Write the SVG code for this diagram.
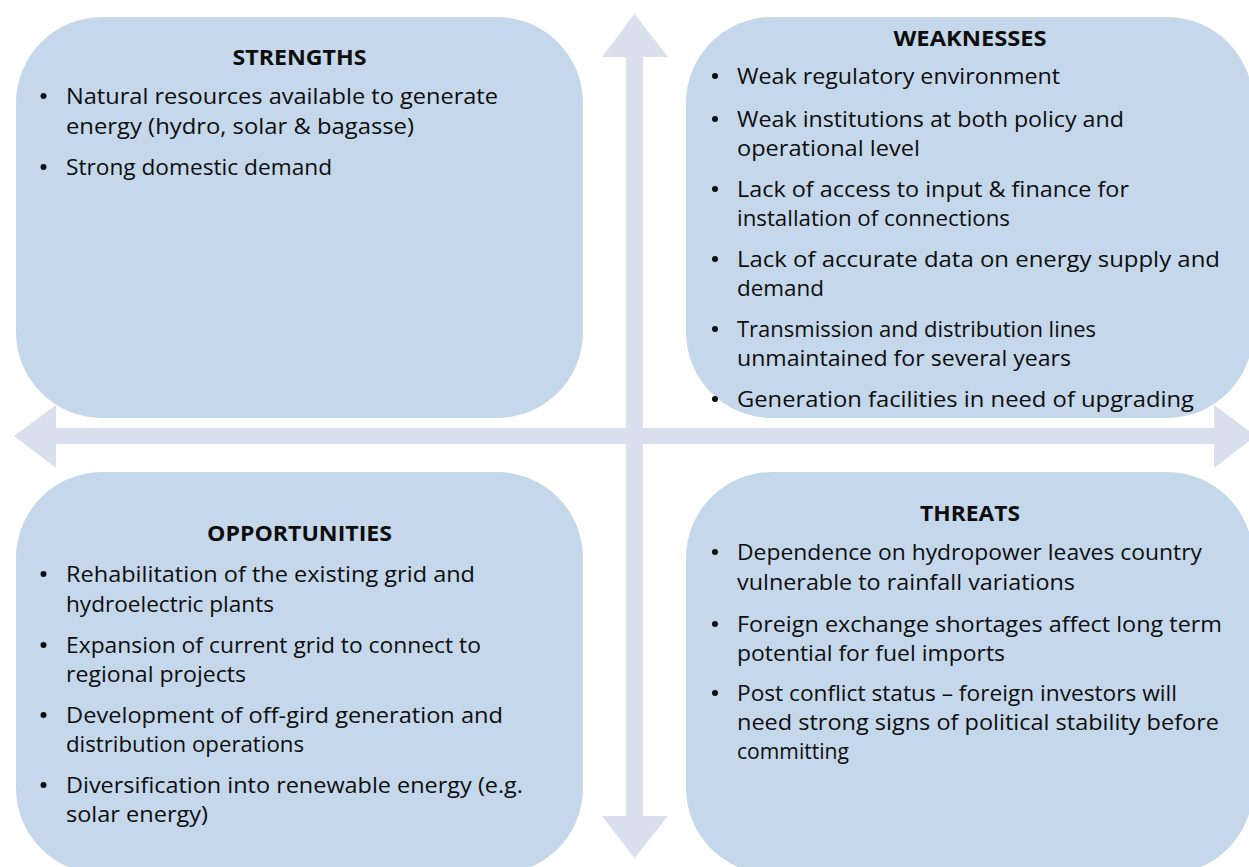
<svg xmlns="http://www.w3.org/2000/svg" width="1249" height="867" viewBox="0 0 1249 867">
  <style>
    .box { fill: #c5d8eb; }
    .axis { fill: #d9dfed; }
    .title { font-family: "Open Sans", "DejaVu Sans", sans-serif; font-weight: bold; font-size: 21px; fill: #0d0d0d; text-anchor: middle; }
    .item { font-family: "Open Sans", "DejaVu Sans", sans-serif; font-size: 21px; fill: #0d0d0d; }
    .dot { fill: #0d0d0d; }
  </style>
  <rect width="1249" height="867" fill="#ffffff"/>

  <!-- quadrant panels -->
  <g id="strengths">
    <rect class="box" x="16" y="17" width="567" height="401" rx="86" ry="86"/>
    <text class="title" x="299.5" y="65" textLength="134" lengthAdjust="spacingAndGlyphs">STRENGTHS</text>
    <circle class="dot" cx="43.5" cy="96" r="3"/>
    <text class="item" x="66" y="104" textLength="432" lengthAdjust="spacingAndGlyphs">Natural resources available to generate</text>
    <text class="item" x="66" y="134" textLength="348" lengthAdjust="spacingAndGlyphs">energy (hydro, solar &amp; bagasse)</text>
    <circle class="dot" cx="43.5" cy="167" r="3"/>
    <text class="item" x="66" y="175" textLength="266" lengthAdjust="spacingAndGlyphs">Strong domestic demand</text>
  </g>

  <g id="weaknesses">
    <rect class="box" x="686" y="17" width="567" height="401" rx="86" ry="86"/>
    <text class="title" x="970" y="46" textLength="153" lengthAdjust="spacingAndGlyphs">WEAKNESSES</text>
    <circle class="dot" cx="715" cy="76" r="3"/>
    <text class="item" x="737" y="84" textLength="323" lengthAdjust="spacingAndGlyphs">Weak regulatory environment</text>
    <circle class="dot" cx="715" cy="119" r="3"/>
    <text class="item" x="737" y="127" textLength="387" lengthAdjust="spacingAndGlyphs">Weak institutions at both policy and</text>
    <text class="item" x="737" y="156" textLength="183" lengthAdjust="spacingAndGlyphs">operational level</text>
    <circle class="dot" cx="715" cy="189" r="3"/>
    <text class="item" x="737" y="197" textLength="392" lengthAdjust="spacingAndGlyphs">Lack of access to input &amp; finance for</text>
    <text class="item" x="737" y="226" textLength="273" lengthAdjust="spacingAndGlyphs">installation of connections</text>
    <circle class="dot" cx="715" cy="259" r="3"/>
    <text class="item" x="737" y="267" textLength="483" lengthAdjust="spacingAndGlyphs">Lack of accurate data on energy supply and</text>
    <text class="item" x="737" y="296" textLength="87" lengthAdjust="spacingAndGlyphs">demand</text>
    <circle class="dot" cx="715" cy="329" r="3"/>
    <text class="item" x="737" y="337" textLength="359" lengthAdjust="spacingAndGlyphs">Transmission and distribution lines</text>
    <text class="item" x="737" y="366" textLength="334" lengthAdjust="spacingAndGlyphs">unmaintained for several years</text>
    <circle class="dot" cx="715" cy="399" r="3"/>
    <text class="item" x="737" y="407" textLength="457" lengthAdjust="spacingAndGlyphs">Generation facilities in need of upgrading</text>
  </g>

  <g id="opportunities">
    <rect class="box" x="16" y="472" width="567" height="402" rx="86" ry="86"/>
    <text class="title" x="299.5" y="541" textLength="185" lengthAdjust="spacingAndGlyphs">OPPORTUNITIES</text>
    <circle class="dot" cx="43.5" cy="574" r="3"/>
    <text class="item" x="66" y="582" textLength="409" lengthAdjust="spacingAndGlyphs">Rehabilitation of the existing grid and</text>
    <text class="item" x="66" y="612" textLength="208" lengthAdjust="spacingAndGlyphs">hydroelectric plants</text>
    <circle class="dot" cx="43.5" cy="645" r="3"/>
    <text class="item" x="66" y="653" textLength="415" lengthAdjust="spacingAndGlyphs">Expansion of current grid to connect to</text>
    <text class="item" x="66" y="682" textLength="180" lengthAdjust="spacingAndGlyphs">regional projects</text>
    <circle class="dot" cx="43.5" cy="715" r="3"/>
    <text class="item" x="66" y="723" textLength="437" lengthAdjust="spacingAndGlyphs">Development of off-gird generation and</text>
    <text class="item" x="66" y="752" textLength="238" lengthAdjust="spacingAndGlyphs">distribution operations</text>
    <circle class="dot" cx="43.5" cy="785" r="3"/>
    <text class="item" x="66" y="793" textLength="457" lengthAdjust="spacingAndGlyphs">Diversification into renewable energy (e.g.</text>
    <text class="item" x="66" y="822" textLength="142" lengthAdjust="spacingAndGlyphs">solar energy)</text>
  </g>

  <g id="threats">
    <rect class="box" x="686" y="472" width="567" height="402" rx="86" ry="86"/>
    <text class="title" x="970" y="521" textLength="100" lengthAdjust="spacingAndGlyphs">THREATS</text>
    <circle class="dot" cx="715" cy="552" r="3"/>
    <text class="item" x="737" y="560" textLength="465" lengthAdjust="spacingAndGlyphs">Dependence on hydropower leaves country</text>
    <text class="item" x="737" y="590" textLength="338" lengthAdjust="spacingAndGlyphs">vulnerable to rainfall variations</text>
    <circle class="dot" cx="715" cy="624" r="3"/>
    <text class="item" x="737" y="632" textLength="485" lengthAdjust="spacingAndGlyphs">Foreign exchange shortages affect long term</text>
    <text class="item" x="737" y="661" textLength="268" lengthAdjust="spacingAndGlyphs">potential for fuel imports</text>
    <circle class="dot" cx="715" cy="693" r="3"/>
    <text class="item" x="737" y="701" textLength="440" lengthAdjust="spacingAndGlyphs">Post conflict status – foreign investors will</text>
    <text class="item" x="737" y="730" textLength="482" lengthAdjust="spacingAndGlyphs">need strong signs of political stability before</text>
    <text class="item" x="737" y="759" textLength="112" lengthAdjust="spacingAndGlyphs">committing</text>
  </g>

  <!-- crossing double-headed axes -->
  <g id="axes">
    <polygon class="axis" points="634.5,14 668,57 643,57 643,816 668,816 634.5,858 602,816 626,816 626,57 602,57"/>
    <polygon class="axis" points="14,436 56,405 56,428 1214,428 1214,405 1256,436 1214,468 1214,444 56,444 56,468"/>
  </g>
</svg>
